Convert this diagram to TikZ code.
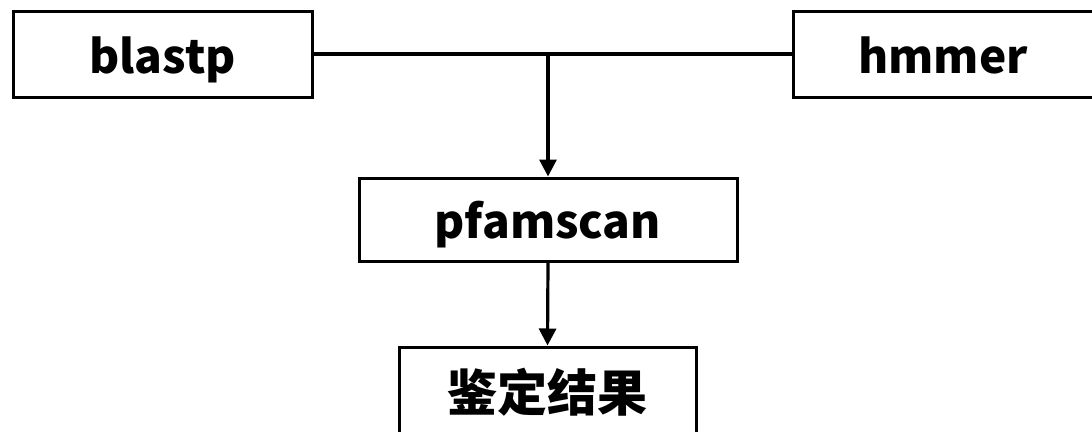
\documentclass[tikz,border=0pt]{standalone}
\usepackage{fontspec}
\newfontfamily\cjk{Noto Sans CJK SC}
\usetikzlibrary{arrows.meta}
\begin{document}
\begin{tikzpicture}[x=1pt,y=-1pt,
  box/.style={draw=black,line width=3pt,fill=white,inner sep=0pt,
    text height=38pt,text depth=0pt,font=\cjk\bfseries\fontsize{46}{50}\selectfont},
  link/.style={line width=3.2pt,draw=black},
  arr/.style={link,-{Triangle[width=17pt,length=17pt]}}]
\useasboundingbox (0,0) rectangle (1092,431);
\clip (0,0) rectangle (1092,431);
\node[box,minimum width=299pt,minimum height=86pt] (blastp) at (162.5,54) {blastp};
\node[box,minimum width=300pt,minimum height=86pt] (hmmer) at (943,54) {hmmer};
\node[box,minimum width=378pt,minimum height=83pt] (pfam) at (548,219.5) {pfamscan};
\node[box,minimum width=297pt,minimum height=88pt,text height=40pt,
  font=\cjk\bfseries\fontsize{50}{54}\selectfont] (res) at (547.5,391) {鉴定结果};
\coordinate (j) at (548,54);
\draw[link] (blastp.east) -- (hmmer.west);
\draw[arr] (j) -- (pfam.north);
\draw[arr] (pfam.south) -- (res.north);
\end{tikzpicture}
\end{document}
